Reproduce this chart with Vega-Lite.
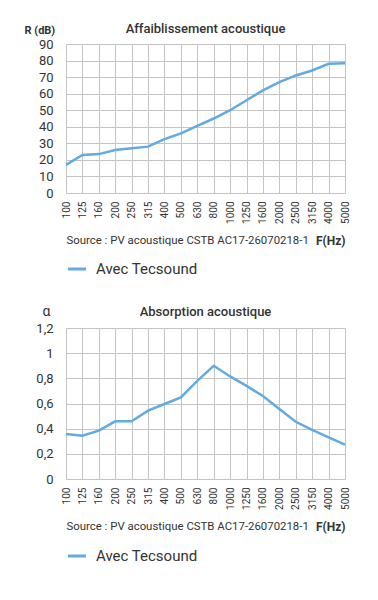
{
  "$schema": "https://vega.github.io/schema/vega-lite/v6.json",
  "padding": {"left": 24, "top": 23, "right": 10, "bottom": 10},
  "background": "white",
  "spacing": 27,
  "config": {
    "font": "Roboto",
    "view": {"stroke": null},
    "axis": {"gridColor": "#c4c4c4", "gridWidth": 1, "domain": false, "ticks": false, "labelColor": "#333333", "titleColor": "#333333"},
    "title": {"color": "#333333", "fontSize": 13, "fontWeight": 500, "anchor": "middle", "offset": -12},
    "legend": {"labelColor": "#333333"}
  },
  "resolve": {"scale": {"color": "independent"}, "legend": {"color": "independent"}},
  "vconcat": [
    {
      "width": 279,
      "height": 149,
      "title": {"text": "Affaiblissement acoustique"},
      "data": {"values": [
        {"f": "100", "v": 17}, {"f": "125", "v": 23}, {"f": "160", "v": 23.5}, {"f": "200", "v": 26},
        {"f": "250", "v": 27}, {"f": "315", "v": 28}, {"f": "400", "v": 32.5}, {"f": "500", "v": 36},
        {"f": "630", "v": 40.5}, {"f": "800", "v": 45}, {"f": "1000", "v": 50}, {"f": "1250", "v": 56},
        {"f": "1600", "v": 62}, {"f": "2000", "v": 67}, {"f": "2500", "v": 71}, {"f": "3150", "v": 74},
        {"f": "4000", "v": 78}, {"f": "5000", "v": 78.3}
      ]},
      "resolve": {"axis": {"x": "independent"}},
      "layer": [
        {
          "mark": {"type": "line", "strokeWidth": 2.5},
          "encoding": {
            "x": {"field": "f", "type": "ordinal", "sort": null, "scale": {"type": "point", "padding": 0},
              "axis": {"orient": "bottom", "grid": true, "labelAngle": -90, "labelFontSize": 10, "labelPadding": 8,
                "title": "Source : PV acoustique CSTB AC17-26070218-1", "titleFontSize": 11.4, "titleFontWeight": "normal",
                "titleAnchor": "start", "titleAlign": "left", "titleX": 0, "titleY": 47, "titleBaseline": "middle"}},
            "y": {"field": "v", "type": "quantitative", "scale": {"domain": [0, 90]},
              "axis": {"values": [0, 10, 20, 30, 40, 50, 60, 70, 80, 90], "labelFontSize": 13, "labelPadding": 13,
                "title": "R (dB)", "titleAngle": 0, "titleFontSize": 11, "titleFontWeight": "bold",
                "titleAlign": "left", "titleX": -42, "titleY": -14, "titleBaseline": "middle"}},
            "color": {"datum": "Avec Tecsound", "scale": {"range": ["#62aae2"]},
              "legend": {"title": null, "orient": "none", "legendX": 0, "legendY": 214, "symbolType": "stroke",
                "symbolSize": 330, "symbolStrokeWidth": 3, "labelFontSize": 15, "labelOffset": 8, "padding": 0}}
          }
        },
        {
          "mark": {"type": "line", "opacity": 0},
          "encoding": {
            "x": {"field": "f", "type": "ordinal", "sort": null, "scale": {"type": "point", "padding": 0},
              "axis": {"orient": "bottom", "labels": false, "grid": false, "title": "F(Hz)", "titleFontSize": 12,
                "titleFontWeight": "bold", "titleAnchor": "end", "titleAlign": "right", "titleX": 279, "titleY": 47, "titleBaseline": "middle"}}
          }
        }
      ]
    },
    {
      "width": 279,
      "height": 151,
      "title": {"text": "Absorption acoustique", "offset": -15},
      "data": {"values": [
        {"f": "100", "v": 0.357}, {"f": "125", "v": 0.344}, {"f": "160", "v": 0.384}, {"f": "200", "v": 0.458},
        {"f": "250", "v": 0.458}, {"f": "315", "v": 0.543}, {"f": "400", "v": 0.596}, {"f": "500", "v": 0.649},
        {"f": "630", "v": 0.78}, {"f": "800", "v": 0.9}, {"f": "1000", "v": 0.815}, {"f": "1250", "v": 0.74},
        {"f": "1600", "v": 0.66}, {"f": "2000", "v": 0.556}, {"f": "2500", "v": 0.455}, {"f": "3150", "v": 0.39},
        {"f": "4000", "v": 0.33}, {"f": "5000", "v": 0.273}
      ]},
      "resolve": {"axis": {"x": "independent"}},
      "layer": [
        {
          "mark": {"type": "line", "strokeWidth": 2.5},
          "encoding": {
            "x": {"field": "f", "type": "ordinal", "sort": null, "scale": {"type": "point", "padding": 0},
              "axis": {"orient": "bottom", "grid": true, "labelAngle": -90, "labelFontSize": 10, "labelPadding": 8,
                "title": "Source : PV acoustique CSTB AC17-26070218-1", "titleFontSize": 11.4, "titleFontWeight": "normal",
                "titleAnchor": "start", "titleAlign": "left", "titleX": 0, "titleY": 47, "titleBaseline": "middle"}},
            "y": {"field": "v", "type": "quantitative", "scale": {"domain": [0, 1.2]},
              "axis": {"values": [0, 0.2, 0.4, 0.6, 0.8, 1, 1.2], "labelFontSize": 13, "labelPadding": 13,
                "labelExpr": "replace(format(datum.value, '.1~f'), '.', ',')",
                "title": "α", "titleAngle": 0, "titleFontSize": 14, "titleFontWeight": "normal",
                "titleAlign": "left", "titleX": -24, "titleY": -17, "titleBaseline": "middle"}},
            "color": {"datum": "Avec Tecsound", "scale": {"range": ["#62aae2"]},
              "legend": {"title": null, "orient": "none", "legendX": 0, "legendY": 217, "symbolType": "stroke",
                "symbolSize": 330, "symbolStrokeWidth": 3, "labelFontSize": 15, "labelOffset": 8, "padding": 0}}
          }
        },
        {
          "mark": {"type": "line", "opacity": 0},
          "encoding": {
            "x": {"field": "f", "type": "ordinal", "sort": null, "scale": {"type": "point", "padding": 0},
              "axis": {"orient": "bottom", "labels": false, "grid": false, "title": "F(Hz)", "titleFontSize": 12,
                "titleFontWeight": "bold", "titleAnchor": "end", "titleAlign": "right", "titleX": 279, "titleY": 47, "titleBaseline": "middle"}}
          }
        }
      ]
    }
  ]
}
